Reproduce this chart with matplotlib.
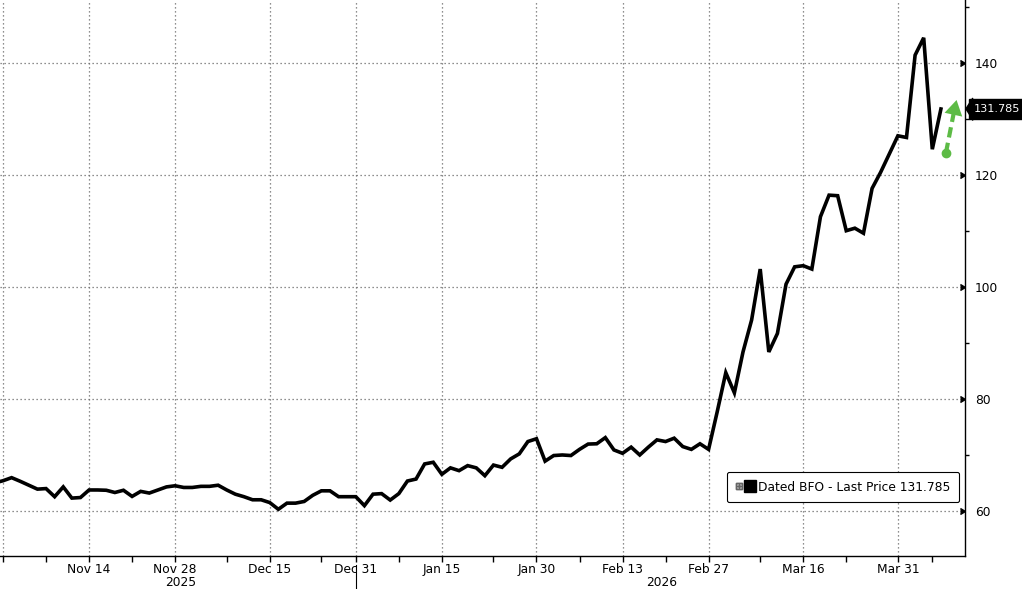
import matplotlib
matplotlib.use("Agg")
import matplotlib.pyplot as plt
import numpy as np
from matplotlib.lines import Line2D
from matplotlib.legend_handler import HandlerTuple
from matplotlib.transforms import blended_transform_factory

# ---------------- data (trading-day series, first point is one day before Oct 31) ----------------
prices = [
    65.0, 65.4, 65.95, 65.3, 64.6, 63.9, 64.0, 62.55, 64.3, 62.3,
    62.4, 63.75, 63.75, 63.7, 63.3, 63.7, 62.6, 63.5, 63.2, 63.75,
    64.3, 64.5, 64.2, 64.2, 64.4, 64.4, 64.6, 63.75, 63.0, 62.55,
    62.0, 62.0, 61.5, 60.3, 61.4, 61.4, 61.7, 62.8, 63.6, 63.6,
    62.55, 62.55, 62.55, 60.95, 63.0, 63.1, 61.95, 63.1, 65.35, 65.7,
    68.4, 68.7, 66.55, 67.7, 67.2, 68.1, 67.7, 66.3, 68.2, 67.8,
    69.3, 70.2, 72.4, 72.9, 68.9, 69.9, 70.0, 69.9, 71.0, 71.95,
    72.0, 73.1, 70.9, 70.3, 71.4, 70.0, 71.4, 72.7, 72.4, 73.0,
    71.5, 71.0, 72.0, 71.0, 77.7, 84.7, 81.1, 88.4, 94.1, 103.2,
    88.4, 91.7, 100.5, 103.6, 103.8, 103.2, 112.55, 116.4, 116.3, 110.05,
    110.5, 109.6, 117.6, 120.5, 123.75, 127.0, 126.7, 141.4, 144.5, 124.6,
    131.785,
]
first_index = -1
last_price = 131.785
series_name = "Dated BFO - Last Price"

major_tick_pos = [0, 10, 20, 31, 41, 51, 62, 72, 82, 93, 104]
major_tick_labels = ["", "Nov 14", "Nov 28", "Dec 15", "Dec 31", "Jan 15",
                     "Jan 30", "Feb 13", "Feb 27", "Mar 16", "Mar 31"]
minor_tick_pos = [5, 15, 26, 37, 46, 57, 67, 77, 88, 98, 108]
year_labels = ["2025", "2026"]
year_label_pos = [20.6, 76.6]
year_break_pos = 41
y_major = [60, 80, 100, 120, 140]
y_minor = [70, 90, 110, 130, 150]

# annotation arrow (green) in data coordinates
arrow_tail = (109.58, 123.93)
arrow_base = (110.47, 130.9)
arrow_tip = (110.82, 133.39)

x = np.arange(len(prices)) + first_index

# ---------------- figure ----------------
W, H = 1022, 589
fig = plt.figure(figsize=(W / 100, H / 100), dpi=100)
ax = fig.add_axes([0, 1 - 556 / H, 965 / W, 556 / H])
ax.set_xlim(-0.35, 111.8)
ax.set_ylim(51.96, 151.25)

FS = 8.8
ax.plot(x, prices, color="black", lw=2.6, solid_joinstyle="miter", zorder=3)

# spines
for s in ["left", "top"]:
    ax.spines[s].set_visible(False)
for s in ["right", "bottom"]:
    ax.spines[s].set_color("black")
    ax.spines[s].set_linewidth(1.0)

# y axis on right
ax.yaxis.tick_right()
ax.set_yticks(y_major)
ax.set_yticks(y_minor, minor=True)
ax.tick_params(axis="y", which="major", direction="out", length=4, width=1,
               pad=3, labelsize=FS, colors="black")
ax.tick_params(axis="y", which="minor", direction="out", length=3, width=1)
for t in ax.yaxis.get_major_ticks():
    t.tick2line.set_marker(matplotlib.markers.CARETRIGHT)
    t.tick2line.set_markersize(5)

# x axis
ax.set_xticks(major_tick_pos, major_tick_labels)
ax.set_xticks(minor_tick_pos, minor=True)
ax.tick_params(axis="x", which="major", direction="out", length=4, width=1,
               pad=1, labelsize=FS, colors="black")
ax.tick_params(axis="x", which="minor", direction="out", length=4, width=1)

ax.grid(True, which="major", color="#6a6a6a", linestyle=(0, (1, 2.2)), linewidth=0.9)

bt = blended_transform_factory(ax.transData, ax.transAxes)
for lab, pos in zip(year_labels, year_label_pos):
    ax.text(pos, -0.048, lab, transform=bt, ha="center", va="center", fontsize=FS)
ax.plot([year_break_pos, year_break_pos], [-0.016, -0.06], transform=bt,
        color="black", lw=0.8, clip_on=False)

# last price tag
rt = blended_transform_factory(ax.transAxes, ax.transData)
ax.plot([1.0], [last_price], transform=rt, linestyle="none",
        marker=[(0, 0), (0.64, 1), (0.64, -1)], markersize=16,
        color="black", clip_on=False, zorder=5)
ax.annotate(f"{last_price:.3f}", xy=(1.0, last_price), xycoords=rt,
            xytext=(9, 0), textcoords="offset pixels", ha="left", va="center",
            color="white", fontsize=8.1, annotation_clip=False,
            bbox=dict(boxstyle="square,pad=0.42", fc="black", ec="black"))

# green arrow
green = "#5DBB46"
ax.plot([arrow_tail[0], arrow_base[0]], [arrow_tail[1], arrow_base[1]],
        color=green, lw=3.0, linestyle=(0, (2.5, 1.3)),
        dash_capstyle="butt", zorder=4, clip_on=False)
ax.plot([arrow_tail[0]], [arrow_tail[1]], marker="o", ms=6, color=green,
        zorder=4, clip_on=False)
ax.annotate("", xy=arrow_tip, xytext=arrow_base,
            arrowprops=dict(arrowstyle="-|>,head_length=1.08,head_width=0.65",
                            mutation_scale=10, color=green, lw=0,
                            shrinkA=0, shrinkB=0), zorder=4)

# legend
icon = Line2D([], [], linestyle="none", marker=r"$\boxplus$", markersize=5,
              color="#666666")
square = Line2D([], [], linestyle="none", marker="s", markersize=9,
                color="black")
leg = ax.legend([(icon, square)], [f"{series_name} {last_price:.3f}"],
                handler_map={tuple: HandlerTuple(ndivide=None, pad=0.25)},
                loc="lower right", bbox_to_anchor=(0.994, 0.097),
                borderaxespad=0, fontsize=FS, frameon=True, fancybox=True,
                edgecolor="black", framealpha=1, handlelength=1.6,
                handletextpad=0.3, borderpad=0.7)
leg.get_frame().set_linewidth(0.8)

fig.savefig("out.png", dpi=100)
